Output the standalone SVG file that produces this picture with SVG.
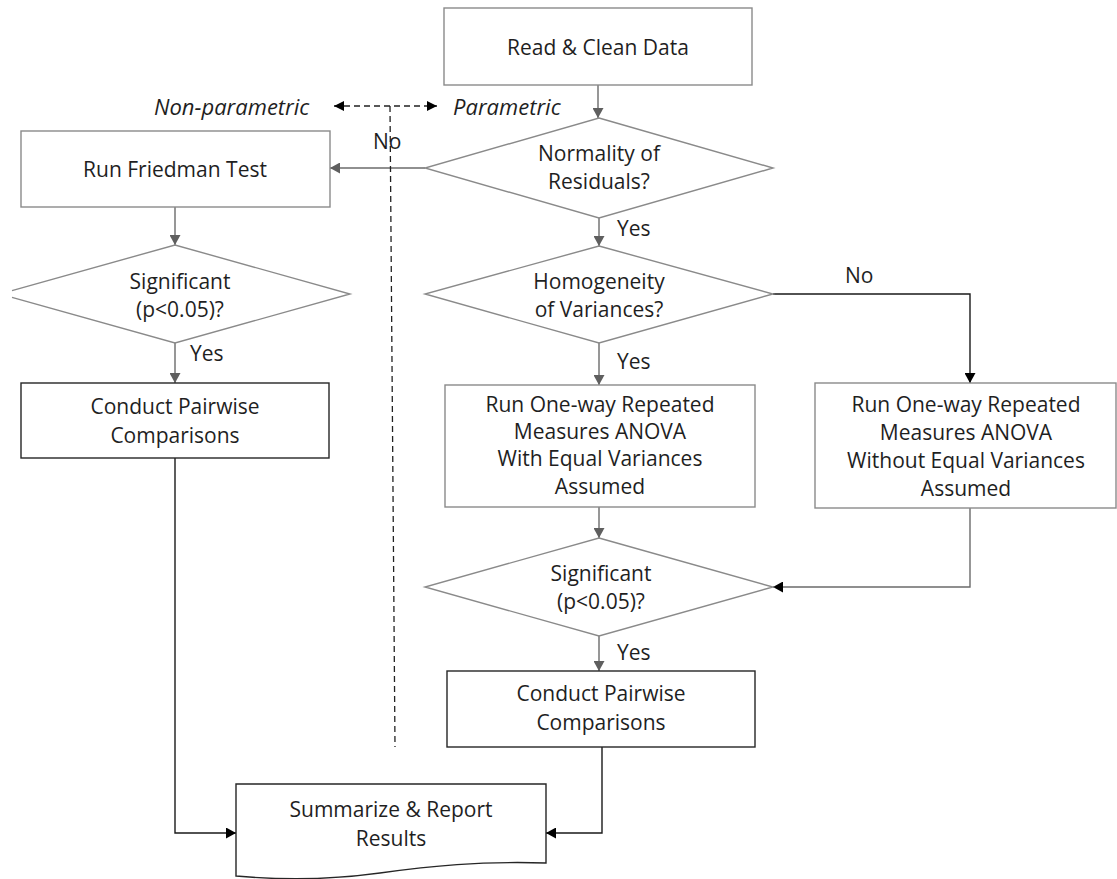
<svg xmlns="http://www.w3.org/2000/svg" width="1117" height="879" viewBox="0 0 1117 879">
<style>
text{font-family:"Open Sans","Liberation Sans",sans-serif;font-size:21px;fill:#1f1f1f;text-anchor:middle;dominant-baseline:central}
.lbl{text-anchor:start}
.it{font-style:italic;font-size:22px}
.g{fill:#fff;stroke:#8a8a8a;stroke-width:1.4}
.k{fill:#fff;stroke:#262626;stroke-width:1.4}
.cg{fill:none;stroke:#6b6b6b;stroke-width:1.4}
.ck{fill:none;stroke:#1a1a1a;stroke-width:1.4}
.cd{fill:none;stroke:#222;stroke-width:1.3;stroke-dasharray:6 4}
</style>
<defs>
<marker id="ag" markerUnits="userSpaceOnUse" markerWidth="11" markerHeight="11" refX="10" refY="5.5" orient="auto"><path d="M0,0 L10,5.5 L0,11 z" fill="#5f5f5f"/></marker>
<marker id="ak" markerUnits="userSpaceOnUse" markerWidth="11" markerHeight="11" refX="10" refY="5.5" orient="auto"><path d="M0,0 L10,5.5 L0,11 z" fill="#000"/></marker>
<marker id="ad" markerUnits="userSpaceOnUse" markerWidth="11" markerHeight="10" refX="10" refY="5" orient="auto-start-reverse"><path d="M0,0 L10,5 L0,10 z" fill="#000"/></marker>
</defs>
<g id="connectors">
<path class="cg" d="M598,85 V118" marker-end="url(#ag)"/>
<path class="cg" d="M425,168 H330" marker-end="url(#ag)"/>
<path class="cg" d="M175,207 V245" marker-end="url(#ag)"/>
<path class="cg" d="M175,343 V383" marker-end="url(#ag)"/>
<path class="ck" d="M175,458 V833 H236" marker-end="url(#ak)"/>
<path class="cg" d="M599,218 V246" marker-end="url(#ag)"/>
<path class="cg" d="M599,343 V385" marker-end="url(#ag)"/>
<path class="ck" d="M773,294 H970 V383" marker-end="url(#ak)"/>
<path class="cg" d="M599,507 V538" marker-end="url(#ag)"/>
<path class="cg" d="M970,508 V587 H773" marker-end="url(#ak)"/>
<path class="cg" d="M599,636 V671" marker-end="url(#ag)"/>
<path class="ck" d="M602,747 V833 H546" marker-end="url(#ak)"/>
<path class="cd" d="M334,106 H437" marker-start="url(#ad)" marker-end="url(#ad)"/>
<path class="cd" d="M390,106 L395,747"/>
<text class="lbl it" x="154" y="106">Non-parametric</text>
<text class="lbl it" x="453" y="106">Parametric</text>
<text class="lbl" x="373" y="141">No</text>
<text class="lbl" x="190" y="353">Yes</text>
<text class="lbl" x="617" y="228">Yes</text>
<text class="lbl" x="617" y="361">Yes</text>
<text class="lbl" x="845" y="275">No</text>
<text class="lbl" x="617" y="652">Yes</text>
</g>
<g id="read">
<rect class="g" x="444" y="8" width="308" height="77"/>
<text x="598" y="47">Read &amp; Clean Data</text>
</g>
<g id="normality">
<polygon class="g" points="599,118 773,168 599,218 425,168"/>
<text x="599" y="153">Normality of</text>
<text x="599" y="181">Residuals?</text>
</g>
<g id="friedman">
<rect class="g" x="21" y="131" width="309" height="76"/>
<text x="175" y="169">Run Friedman Test</text>
</g>
<g id="sig-left">
<polyline class="g" points="12,290.6 175,245 350,294 175,343 12,297.4"/>
<text x="180" y="281">Significant</text>
<text x="180" y="309">(p&lt;0.05)?</text>
</g>
<g id="pairwise-left">
<rect class="k" x="21" y="383" width="308" height="75"/>
<text x="175" y="406">Conduct Pairwise</text>
<text x="175" y="435">Comparisons</text>
</g>
<g id="homogeneity">
<polygon class="g" points="599,246 773,294 599,343 425,294"/>
<text x="599" y="281">Homogeneity</text>
<text x="599" y="309">of Variances?</text>
</g>
<g id="anova-equal">
<rect class="g" x="445" y="385" width="310" height="122"/>
<text x="600" y="404">Run One-way Repeated</text>
<text x="600" y="431">Measures ANOVA</text>
<text x="600" y="458">With Equal Variances</text>
<text x="600" y="486">Assumed</text>
</g>
<g id="anova-unequal">
<rect class="g" x="815" y="383" width="301" height="125"/>
<text x="966" y="404">Run One-way Repeated</text>
<text x="966" y="432">Measures ANOVA</text>
<text x="966" y="460">Without Equal Variances</text>
<text x="966" y="488">Assumed</text>
</g>
<g id="sig-right">
<polygon class="g" points="599,538 773,587 599,636 425,587"/>
<text x="601" y="573">Significant</text>
<text x="601" y="601">(p&lt;0.05)?</text>
</g>
<g id="pairwise-right">
<rect class="k" x="447" y="671" width="308" height="76"/>
<text x="601" y="693">Conduct Pairwise</text>
<text x="601" y="722">Comparisons</text>
</g>
<g id="summarize">
<path class="k" d="M236,784 H546 V863 C480,861 430,866 380,873 C330,880 280,880 236,876 Z"/>
<text x="391" y="809">Summarize &amp; Report</text>
<text x="391" y="838">Results</text>
</g>
</svg>
